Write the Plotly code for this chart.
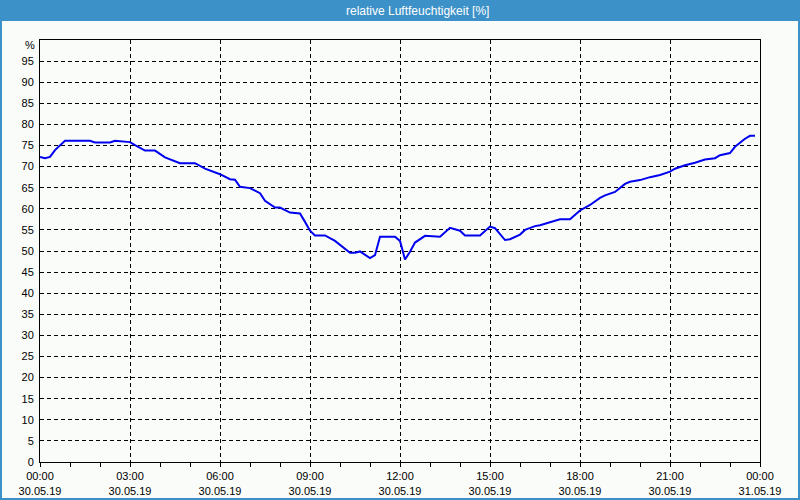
import plotly.graph_objects as go

# ---- data ----
date_str = "2019-05-30"
times = ["00:00","00:10","00:20","00:30","00:50","01:40","01:50","02:20","02:30","02:50",
         "03:00","03:10","03:30","03:50","04:10","04:40","05:10","05:30","06:00","06:20",
         "06:30","06:40","07:00","07:20","07:30","07:50","08:00","08:20","08:40","08:50",
         "09:00","09:10","09:30","09:50","10:20","10:30","10:40","11:00","11:10","11:20",
         "11:50","12:00","12:10","12:20","12:30","12:50","13:20","13:40","14:00","14:10",
         "14:40","15:00","15:10","15:30","15:40","16:00","16:10","16:30","16:40","17:00",
         "17:20","17:40","18:00","18:20","18:40","18:50","19:10","19:30","19:40","20:00",
         "20:20","20:40","21:00","21:10","21:30","21:50","22:10","22:30","22:40","23:00",
         "23:10","23:30","23:40","23:50"]
humidity = [72.3,72.0,72.3,73.9,76.1,76.1,75.7,75.7,76.1,76.0,
            75.8,75.1,73.8,73.8,72.2,70.8,70.8,69.5,68.2,67.0,
            66.9,65.2,64.9,63.7,61.9,60.3,60.3,59.1,58.9,56.9,
            54.8,53.7,53.7,52.4,49.6,49.6,49.9,48.3,49.0,53.4,
            53.4,52.4,48.0,49.8,52.0,53.6,53.4,55.5,54.8,53.7,
            53.7,55.8,55.4,52.6,52.8,53.9,55.0,55.9,56.1,56.8,
            57.5,57.5,59.6,60.9,62.6,63.2,64.0,65.9,66.4,66.8,
            67.5,68.0,68.8,69.5,70.3,70.9,71.7,72.0,72.7,73.2,
            74.7,76.6,77.3,77.3]
y_ticks = list(range(0, 100, 5))
title_text = "relative Luftfeuchtigkeit [%]"
unit_label = "%"

x_vals = [f"{date_str} {t}" for t in times]

W, H = 800, 500
L, R, T, B = 40, 40, 40, 38
pw, ph = W - L - R, H - T - B

def px_x(px):
    return (px - L) / pw

def px_y(py):
    return (H - B - py) / ph

bar_col = "#3c91c8"
bg = "#fafcfa"

fig = go.Figure()
fig.add_trace(go.Scatter(x=x_vals, y=humidity, mode="lines",
                         line=dict(color="#0000ee", width=2), hoverinfo="skip"))

fig.update_layout(
    width=W, height=H,
    margin=dict(l=L, r=R, t=T, b=B, pad=0, autoexpand=False),
    paper_bgcolor=bg, plot_bgcolor=bg,
    showlegend=False,
    font=dict(family="Liberation Sans, Arial, sans-serif", size=11, color="black"),
)

fig.update_xaxes(
    type="date", automargin=False,
    range=["2019-05-30 00:00", "2019-05-31 00:00"],
    dtick=3 * 3600 * 1000,
    tick0="2019-05-30 00:00",
    tickformat="%H:%M<br>%d.%m.%y",
    showgrid=True, gridcolor="black", griddash="4px,3px", gridwidth=1,
    showline=True, linecolor="black", linewidth=1, mirror=True,
    ticks="outside", ticklen=4, tickcolor="black",
    minor=dict(dtick=3600 * 1000, ticks="outside", ticklen=4, tickcolor="black", showgrid=False),
    zeroline=False, fixedrange=True,
)
fig.update_yaxes(
    automargin=False,
    range=[0, 100],
    tickvals=y_ticks,
    ticktext=[str(v) for v in y_ticks],
    showgrid=True, gridcolor="black", griddash="4px,3px", gridwidth=1,
    showline=True, linecolor="black", linewidth=1, mirror=True,
    ticks="", ticklabelstandoff=3,
    zeroline=False, fixedrange=True,
)

shapes = [
    # title bar
    dict(type="rect", xref="paper", yref="paper", x0=px_x(0), x1=px_x(W), y0=px_y(21), y1=px_y(0),
         fillcolor=bar_col, line=dict(width=0), layer="above"),
    # window border left / right / bottom
    dict(type="rect", xref="paper", yref="paper", x0=px_x(0), x1=px_x(2), y0=px_y(H), y1=px_y(0),
         fillcolor=bar_col, line=dict(width=0), layer="above"),
    dict(type="rect", xref="paper", yref="paper", x0=px_x(W - 2), x1=px_x(W), y0=px_y(H), y1=px_y(0),
         fillcolor=bar_col, line=dict(width=0), layer="above"),
    dict(type="rect", xref="paper", yref="paper", x0=px_x(0), x1=px_x(W), y0=px_y(H), y1=px_y(H - 2),
         fillcolor=bar_col, line=dict(width=0), layer="above"),
]
fig.update_layout(shapes=shapes)

fig.add_annotation(x=px_x(417), y=px_y(10.5), xref="paper", yref="paper", text=title_text,
                   showarrow=False, xanchor="center", yanchor="middle",
                   font=dict(family="Liberation Sans, Arial, sans-serif", size=12, color="white"))
fig.add_annotation(x=px_x(37), y=px_y(45), xref="paper", yref="paper", text=unit_label,
                   showarrow=False, xanchor="right", yanchor="middle",
                   font=dict(size=11, color="black"))

fig.write_html("out.html")
